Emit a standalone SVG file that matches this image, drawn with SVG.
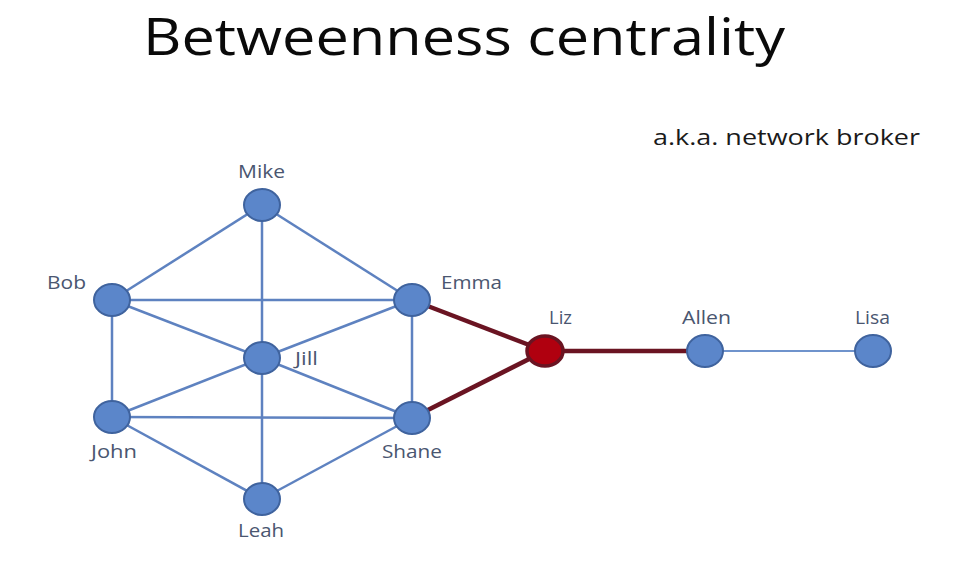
<svg xmlns="http://www.w3.org/2000/svg" width="960" height="568" viewBox="0 0 960 568">
<style>
.e{stroke:#5E82C0;stroke-width:2.5;fill:none}
.t{stroke:#6F93CC;stroke-width:2;fill:none}
.r{stroke:#6A1422;stroke-width:4.5;fill:none}
.n{fill:#5B86CA;stroke:#3F639E;stroke-width:2}
.lz{fill:#B0000F;stroke:#6A1422;stroke-width:3.5}
.l{font-family:"Open Sans","Liberation Sans",sans-serif;font-size:18px;fill:#4A5670}
</style>
<rect width="960" height="568" fill="#FFFFFF"/>
<text x="143" y="55" font-family="Open Sans, Liberation Sans, sans-serif" font-size="52" fill="#0A0A0A" textLength="642" lengthAdjust="spacingAndGlyphs">Betweenness centrality</text>
<text x="653" y="145" font-family="Open Sans, Liberation Sans, sans-serif" font-size="21" fill="#1A1A1A" textLength="267" lengthAdjust="spacingAndGlyphs">a.k.a. network broker</text>
<g id="connectors">
<line class="e" x1="262" y1="205" x2="112" y2="300"/>
<line class="e" x1="262" y1="205" x2="412" y2="300"/>
<line class="e" x1="262" y1="205" x2="262" y2="358"/>
<line class="e" x1="262" y1="358" x2="262" y2="499"/>
<line class="e" x1="112" y1="300" x2="412" y2="300"/>
<line class="e" x1="112" y1="300" x2="262" y2="358"/>
<line class="e" x1="112" y1="300" x2="112" y2="417"/>
<line class="e" x1="412" y1="300" x2="262" y2="358"/>
<line class="e" x1="412" y1="300" x2="412" y2="418"/>
<line class="e" x1="262" y1="358" x2="112" y2="417"/>
<line class="e" x1="262" y1="358" x2="412" y2="418"/>
<line class="e" x1="112" y1="417" x2="412" y2="418"/>
<line class="e" x1="112" y1="417" x2="262" y2="499"/>
<line class="e" x1="412" y1="418" x2="262" y2="499"/>
<line class="r" x1="412" y1="300" x2="545" y2="351"/>
<line class="r" x1="412" y1="418" x2="545" y2="351"/>
<line class="r" x1="545" y1="351" x2="705" y2="351"/>
<line class="t" x1="705" y1="351" x2="873" y2="351"/>
</g>
<g id="mike"><ellipse class="n" cx="262" cy="205" rx="18" ry="16"/><text class="l" x="238" y="178" textLength="47" lengthAdjust="spacingAndGlyphs">Mike</text></g>
<g id="bob"><ellipse class="n" cx="112" cy="300" rx="18" ry="16"/><text class="l" x="47" y="289" textLength="39" lengthAdjust="spacingAndGlyphs">Bob</text></g>
<g id="emma"><ellipse class="n" cx="412" cy="300" rx="18" ry="16"/><text class="l" x="441" y="289" textLength="61" lengthAdjust="spacingAndGlyphs">Emma</text></g>
<g id="jill"><ellipse class="n" cx="262" cy="358" rx="18" ry="16"/><text class="l" x="295" y="365" textLength="23" lengthAdjust="spacingAndGlyphs">Jill</text></g>
<g id="john"><ellipse class="n" cx="112" cy="417" rx="18" ry="16"/><text class="l" x="91" y="458" textLength="46" lengthAdjust="spacingAndGlyphs">John</text></g>
<g id="shane"><ellipse class="n" cx="412" cy="418" rx="18" ry="16"/><text class="l" x="382" y="458" textLength="60" lengthAdjust="spacingAndGlyphs">Shane</text></g>
<g id="leah"><ellipse class="n" cx="262" cy="499" rx="18" ry="16"/><text class="l" x="238" y="537" textLength="46" lengthAdjust="spacingAndGlyphs">Leah</text></g>
<g id="liz"><ellipse class="lz" cx="545" cy="351" rx="18" ry="15"/><text class="l" x="549" y="324" textLength="23" lengthAdjust="spacingAndGlyphs">Liz</text></g>
<g id="allen"><ellipse class="n" cx="705" cy="351" rx="18" ry="16"/><text class="l" x="682" y="324" textLength="49" lengthAdjust="spacingAndGlyphs">Allen</text></g>
<g id="lisa"><ellipse class="n" cx="873" cy="351" rx="18" ry="16"/><text class="l" x="855" y="324" textLength="35" lengthAdjust="spacingAndGlyphs">Lisa</text></g>
</svg>
